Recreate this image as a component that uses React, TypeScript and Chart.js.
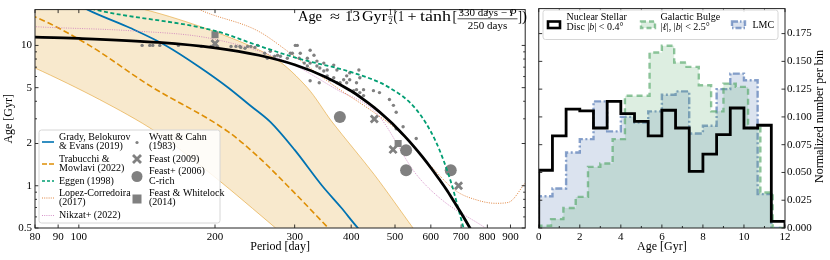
import React, { useEffect, useRef } from "react";
import { Chart, registerables } from "chart.js";

Chart.register(...registerables);

const SERIF = "'Liberation Serif', 'Times New Roman', Times, serif";
Chart.defaults.font.family = SERIF;
Chart.defaults.color = "#000";

// ---------------- Left panel: age vs period ----------------
const periodTicks = [80, 90, 100, 200, 300, 400, 500, 600, 700, 800, 900];
const ageTicks = [0.5, 1, 2, 5, 10];
const ageMinorTicks = [0.6, 0.7, 0.8, 0.9, 3, 4, 6, 7, 8, 9];

// Age ≈ 13 Gyr ½(1 + tanh[(330 − P)/250])
const fitPeriod = [75, 80, 100, 150, 200, 250, 300, 350, 400, 425, 450, 475, 500, 525, 550, 575, 600, 625, 650, 675, 700, 740, 760];
const fitAge = [11.5, 11.45, 11.22, 10.51, 9.61, 8.51, 7.28, 5.98, 4.73, 4.14, 3.6, 3.1, 2.66, 2.257, 1.91, 1.606, 1.344, 1.121, 0.936, 0.772, 0.64, 0.471, 0.403];

const gradyPeriod = [100, 104.5, 130, 155.6, 185, 214, 240, 265, 300, 345, 380, 414, 425];
const gradyAge = [19.5, 18, 13.3, 10, 7.0, 5, 3.7, 2.85, 1.8, 1.0, 0.7, 0.5, 0.46];

const trabPeriod = [75, 80, 105.5, 143, 213.7, 248.6, 296.5, 356, 370];
const trabAge = [17.0, 15.96, 10, 5.2, 2.43, 1.62, 0.923, 0.5, 0.44];

const bandUpperPeriod = [75, 100, 138, 200, 271, 320, 363, 450, 548, 570];
const bandUpperAge = [25, 21.5, 18.2, 12.5, 8.1, 5.0, 2.85, 1.2, 0.5, 0.42];
const bandLowerPeriod = [285, 270.7, 200, 147.8, 111, 80, 75];
const bandLowerAge = [0.44, 0.508, 1.15, 2.43, 4.12, 6.9, 7.3];

const eggenPeriod = [100, 107.1, 200, 248.6, 304, 405, 486, 556.6, 615.6, 663.7, 709, 725];
const eggenAge = [19.5, 18.2, 12.7, 10, 8.11, 6.37, 5.0, 3.51, 2.06, 1.08, 0.5, 0.4];

const lopezPeriod = [175, 183.6, 248.6, 293.6, 366.4, 448, 510.6, 594.3, 680.6, 760, 834, 889, 970, 1000];
const lopezAge = [20, 18.2, 12.7, 8.79, 5.17, 3.35, 2.43, 1.43, 0.923, 0.79, 0.75, 0.76, 1.05, 1.2];

const nikzatPeriod = [75, 80, 131.1, 196.1, 290, 372, 455, 556.6, 637.6, 792, 820];
const nikzatAge = [13.8, 13.6, 12.7, 11.2, 7.6, 4.84, 3.3, 1.21, 0.785, 0.5, 0.46];

const wyattPeriod = [138, 143.5, 145.7, 151, 166, 186.5, 196, 217, 222.5, 228, 236, 245, 257.5, 261, 271, 227, 233, 240, 248.6, 265, 275, 279, 289, 296.5, 301, 307, 315, 320, 324.6, 331, 336, 341, 348, 324.6, 354, 359, 366, 372, 385, 391, 397, 411, 418, 426, 304, 293.5, 308.7, 324.6, 320, 336, 348, 354, 366, 372, 378, 340, 391, 397, 411, 418, 416, 405, 426, 448, 462, 486, 496, 503, 521, 503, 557];
const wyattAge = [10.0, 10.0, 10.0, 10.0, 10.0, 9.84, 9.84, 9.84, 9.84, 9.68, 9.84, 9.68, 8.79, 8.11, 8.38, 9.84, 9.53, 9.84, 10.0, 9.08, 8.51, 8.38, 8.11, 8.79, 10.0, 8.11, 7.48, 7.13, 7.48, 8.51, 7.13, 6.9, 6.58, 5.6, 6.07, 5.69, 5.88, 5.42, 5.69, 5.42, 6.37, 4.84, 4.61, 4.39, 10.0, 8.79, 8.79, 9.23, 8.11, 7.73, 7.48, 6.68, 7.24, 6.68, 5.42, 5.42, 6.07, 5.69, 5.42, 5.88, 6.68, 4.76, 4.84, 4.76, 4.61, 4.12, 3.74, 3.34, 2.63, 2.55, 2.17];

const feast09Period = [200, 450, 495, 691];
const feast09Age = [10.3, 2.99, 1.81, 1.0];
const feast06Period = [377.6, 529, 529, 664];
const feast06Age = [3.09, 1.79, 1.29, 1.29];
const fwPeriod = [200, 508];
const fwAge = [11.9, 2.0];

// ---------------- Right panel: age histograms ----------------
const ageTicksR = [0, 2, 4, 6, 8, 10, 12];
const normTicks = [0, 0.025, 0.05, 0.075, 0.1, 0.125, 0.15, 0.175];
const edges18 = [0, 0.667, 1.333, 2, 2.667, 3.333, 4, 4.667, 5.333, 6, 6.667, 7.333, 8, 8.667, 9.333, 10, 10.667, 11.333, 12];
const edges20 = [0, 0.6, 1.2, 1.8, 2.4, 3, 3.6, 4.2, 4.8, 5.4, 6, 6.6, 7.2, 7.8, 8.4, 9, 9.6, 10.2, 10.8, 11.4, 12];
const nsdValues = [0.052, 0.083, 0.107, 0.1055, 0.09, 0.114, 0.103, 0.096, 0.083, 0.106, 0.09, 0.051, 0.0665, 0.084, 0.108, 0.09, 0.0925, 0.006];
const bulgeValues = [0.002, 0.008, 0.018, 0.028, 0.055, 0.058, 0.08, 0.119, 0.119, 0.158, 0.164, 0.149, 0.145, 0.1285, 0.105, 0.13, 0.127, 0.09, 0.032, 0.0];
const lmcValues = [0.0286, 0.0355, 0.068, 0.08, 0.114, 0.087, 0.1, 0.095, 0.105, 0.12, 0.123, 0.085, 0.092, 0.125, 0.139, 0.133, 0.0305, 0.0];

const BLUE = "#0173b2";
const ORANGE = "#de8f05";
const GREEN = "#029e73";
const LOPEZ = "rgba(213,94,0,0.75)";
const PINK = "rgba(204,120,188,0.8)";
const GRAY = "#808080";

const HGREEN_LINE = "rgba(85,168,104,0.65)";
const HGREEN_FILL = "rgba(85,168,104,0.2)";
const HBLUE_LINE = "rgba(76,114,176,0.65)";
const HBLUE_FILL = "rgba(76,114,176,0.2)";

const zip = (xs: number[], ys: number[]) => xs.map((x, i) => ({ x, y: ys[i] }));
const stepData = (edges: number[], vals: number[]) => {
  const pts = [{ x: edges[0], y: 0 }];
  vals.forEach((v, i) => pts.push({ x: edges[i], y: v }));
  pts.push({ x: edges[edges.length - 1], y: vals[vals.length - 1] });
  pts.push({ x: edges[edges.length - 1], y: 0 });
  return pts;
};

function framePlugin(id: string, xMajor: number[], xMinor: number[], yMajor: number[], yMinor: number[]) {
  return {
    id,
    afterDatasetsDraw(chart: any) {
      const { ctx, chartArea: a } = chart;
      const xs = chart.scales.x;
      const ys = chart.scales.y;
      ctx.save();
      ctx.strokeStyle = "#000";
      ctx.lineWidth = 0.8;
      ctx.beginPath();
      const vt = (vals: number[], len: number) => {
        for (const v of vals) {
          const p = xs.getPixelForValue(v);
          if (p < a.left - 0.5 || p > a.right + 0.5) continue;
          ctx.moveTo(p, a.bottom);
          ctx.lineTo(p, a.bottom - len);
          ctx.moveTo(p, a.top);
          ctx.lineTo(p, a.top + len);
        }
      };
      const ht = (vals: number[], len: number) => {
        for (const v of vals) {
          const p = ys.getPixelForValue(v);
          if (p < a.top - 0.5 || p > a.bottom + 0.5) continue;
          ctx.moveTo(a.left, p);
          ctx.lineTo(a.left + len, p);
          ctx.moveTo(a.right, p);
          ctx.lineTo(a.right - len, p);
        }
      };
      vt(xMajor, 3.5);
      vt(xMinor, 2);
      ht(yMajor, 3.5);
      ht(yMinor, 2);
      ctx.stroke();
      ctx.lineWidth = 1;
      ctx.strokeStyle = "#222";
      ctx.strokeRect(a.left, a.top, a.right - a.left, a.bottom - a.top);
      ctx.restore();
    },
  };
}

function roundRect(ctx: CanvasRenderingContext2D, x: number, y: number, w: number, h: number, r: number) {
  ctx.beginPath();
  ctx.moveTo(x + r, y);
  ctx.lineTo(x + w - r, y);
  ctx.arcTo(x + w, y, x + w, y + r, r);
  ctx.lineTo(x + w, y + h - r);
  ctx.arcTo(x + w, y + h, x + w - r, y + h, r);
  ctx.lineTo(x + r, y + h);
  ctx.arcTo(x, y + h, x, y + h - r, r);
  ctx.lineTo(x, y + r);
  ctx.arcTo(x, y, x + r, y, r);
  ctx.closePath();
}

function drawRich(ctx: CanvasRenderingContext2D, parts: Array<[string, boolean]>, x: number, y: number, size: number) {
  let cx = x;
  for (const [t, it] of parts) {
    ctx.font = `${it ? "italic " : ""}${size}px ${SERIF}`;
    ctx.fillText(t, cx, y);
    cx += ctx.measureText(t).width;
  }
  return cx;
}

// draw text so that it spans [x0, x1] horizontally (gentle horizontal scaling)
function fitText(ctx: CanvasRenderingContext2D, text: string, x0: number, x1: number, y: number, font: string) {
  ctx.save();
  ctx.font = font;
  const w = ctx.measureText(text).width;
  const s = Math.min(1.3, Math.max(0.8, (x1 - x0) / w));
  ctx.translate(x0, y);
  ctx.scale(s, 1);
  ctx.fillText(text, 0, 0);
  ctx.restore();
}

const leftLegendPlugin = {
  id: "leftLegend",
  afterDraw(chart: any) {
    const ctx: CanvasRenderingContext2D = chart.ctx;
    ctx.save();
    roundRect(ctx, 39, 130, 181, 93, 2.5);
    ctx.fillStyle = "rgba(255,255,255,0.85)";
    ctx.fill();
    ctx.strokeStyle = "#d6d6d6";
    ctx.lineWidth = 1;
    ctx.stroke();
    ctx.fillStyle = "#000";
    ctx.textBaseline = "middle";
    ctx.font = `10px ${SERIF}`;
    const rows: Array<{ y: number; color: string; dash: number[]; w: number; text: string[] }> = [
      { y: 142, color: BLUE, dash: [], w: 1.6, text: ["Grady, Belokurov", "& Evans (2019)"] },
      { y: 164, color: ORANGE, dash: [5, 2], w: 1.6, text: ["Trabucchi &", "Mowlavi (2022)"] },
      { y: 181, color: GREEN, dash: [3, 2], w: 1.6, text: ["Eggen (1998)"] },
      { y: 198, color: LOPEZ, dash: [1, 1.2], w: 1, text: ["Lopez-Corredoira", "(2017)"] },
      { y: 215.5, color: PINK, dash: [1, 1.2], w: 1, text: ["Nikzat+ (2022)"] },
    ];
    for (const r of rows) {
      ctx.save();
      ctx.strokeStyle = r.color;
      ctx.lineWidth = r.w;
      ctx.setLineDash(r.dash);
      ctx.beginPath();
      ctx.moveTo(42, r.y);
      ctx.lineTo(54, r.y);
      ctx.stroke();
      ctx.restore();
      if (r.text.length === 1) ctx.fillText(r.text[0], 59, r.y);
      else {
        ctx.fillText(r.text[0], 59, r.y - 4.8);
        ctx.fillText(r.text[1], 59, r.y + 4.8);
      }
    }
    ctx.fillStyle = GRAY;
    ctx.beginPath();
    ctx.arc(137, 142.5, 1.6, 0, Math.PI * 2);
    ctx.fill();
    ctx.strokeStyle = GRAY;
    ctx.lineWidth = 2.8;
    ctx.beginPath();
    ctx.moveTo(133, 155);
    ctx.lineTo(141, 163);
    ctx.moveTo(141, 155);
    ctx.lineTo(133, 163);
    ctx.stroke();
    ctx.beginPath();
    ctx.arc(137, 176.5, 5.5, 0, Math.PI * 2);
    ctx.fill();
    ctx.fillRect(132.5, 194.5, 9, 9);
    ctx.fillStyle = "#000";
    ctx.fillText("Wyatt & Cahn", 149, 137.2);
    ctx.fillText("(1983)", 149, 146.6);
    ctx.fillText("Feast (2009)", 149, 159);
    ctx.fillText("Feast+ (2006)", 149, 171.8);
    ctx.fillText("C-rich", 149, 181.2);
    ctx.fillText("Feast & Whitelock", 149, 193.4);
    ctx.fillText("(2014)", 149, 202.8);
    ctx.restore();
  },
};

const formulaPlugin = {
  id: "formula",
  afterDraw(chart: any) {
    const ctx: CanvasRenderingContext2D = chart.ctx;
    ctx.save();
    ctx.fillStyle = "#000";
    ctx.strokeStyle = "#000";
    ctx.textBaseline = "alphabetic";
    const big = `14px ${SERIF}`;
    const base = 20.5;
    fitText(ctx, "Age", 298, 322, base, big);
    fitText(ctx, "\u2248", 330, 340, base, big);
    fitText(ctx, "13", 345, 360, base, big);
    fitText(ctx, "Gyr", 362, 387, base, big);
    // one half
    ctx.font = `8px ${SERIF}`;
    ctx.textAlign = "center";
    ctx.fillText("1", 390.5, 15);
    ctx.fillText("2", 390.5, 23.5);
    ctx.lineWidth = 0.6;
    ctx.beginPath();
    ctx.moveTo(388, 16.8);
    ctx.lineTo(393, 16.8);
    ctx.stroke();
    ctx.textAlign = "left";
    fitText(ctx, "(", 393.5, 397.5, base, big);
    fitText(ctx, "1", 398, 404, base, big);
    fitText(ctx, "+", 407.5, 416.5, base, big);
    fitText(ctx, "tanh", 420, 451, base, big);
    fitText(ctx, "[", 452.5, 457, base, big);
    // fraction
    const cx = 487.5;
    ctx.font = `11px ${SERIF}`;
    const numA = ctx.measureText("330 days \u2212 ").width;
    ctx.font = `italic 11px ${SERIF}`;
    const numB = ctx.measureText("P").width;
    drawRich(ctx, [["330 days \u2212 ", false], ["P", true]], cx - (numA + numB) / 2, 15.5, 11);
    ctx.font = `11px ${SERIF}`;
    const denW = ctx.measureText("250 days").width;
    ctx.fillText("250 days", cx - denW / 2, 29);
    ctx.lineWidth = 0.7;
    ctx.beginPath();
    ctx.moveTo(457.5, 18.8);
    ctx.lineTo(517.5, 18.8);
    ctx.stroke();
    fitText(ctx, "]", 518, 522, base, big);
    fitText(ctx, ")", 522, 527, base, big);
    ctx.restore();
  },
};

const rightLegendPlugin = {
  id: "rightLegend",
  afterDraw(chart: any) {
    const ctx: CanvasRenderingContext2D = chart.ctx;
    const ox = -533; // right canvas starts at page x = 533
    ctx.save();
    roundRect(ctx, 543 + ox, 10, 235, 29.5, 2.5);
    ctx.fillStyle = "rgba(255,255,255,0.85)";
    ctx.fill();
    ctx.strokeStyle = "#d6d6d6";
    ctx.lineWidth = 1;
    ctx.stroke();
    ctx.fillStyle = "#fff";
    ctx.fillRect(548 + ox, 21.5, 12, 6.5);
    ctx.strokeStyle = "#000";
    ctx.lineWidth = 2.6;
    ctx.strokeRect(548 + ox, 21.5, 12, 6.5);

    ctx.fillStyle = HGREEN_FILL;
    ctx.fillRect(641 + ox, 21.5, 14, 6.5);
    ctx.strokeStyle = HGREEN_LINE;
    ctx.lineWidth = 2.4;
    ctx.setLineDash([5, 3]);
    ctx.strokeRect(641 + ox, 21.5, 14, 6.5);

    ctx.fillStyle = HBLUE_FILL;
    ctx.fillRect(732 + ox, 21.5, 13, 6.5);
    ctx.strokeStyle = HBLUE_LINE;
    ctx.setLineDash([6, 2, 1.5, 2]);
    ctx.strokeRect(732 + ox, 21.5, 13, 6.5);
    ctx.setLineDash([]);

    ctx.fillStyle = "#000";
    ctx.textBaseline = "middle";
    ctx.font = `10px ${SERIF}`;
    ctx.fillText("Nuclear Stellar", 566.5 + ox, 17);
    drawRich(ctx, [["Disc |", false], ["b", true], ["| < 0.4\u00b0", false]], 566.5 + ox, 27.3, 10);
    ctx.font = `10px ${SERIF}`;
    ctx.fillText("Galactic Bulge", 660.5 + ox, 17);
    drawRich(ctx, [["|", false], ["\u2113", true], ["|, |", false], ["b", true], ["| < 2.5\u00b0", false]], 660.5 + ox, 27.3, 10);
    ctx.font = `10px ${SERIF}`;
    ctx.fillText("LMC", 752.5 + ox, 25.5);
    ctx.restore();
  },
};

const rightTitlePlugin = {
  id: "rightTitle",
  afterDraw(chart: any) {
    const ctx: CanvasRenderingContext2D = chart.ctx;
    ctx.save();
    ctx.translate(820 - 533, 116.5);
    ctx.rotate(-Math.PI / 2);
    ctx.fillStyle = "#000";
    ctx.textAlign = "center";
    ctx.textBaseline = "middle";
    ctx.font = `12px ${SERIF}`;
    ctx.fillText("Normalized number per bin", 0, 0);
    ctx.restore();
  },
};

const lineDs = (label: string, xs: number[], ys: number[], color: string, width: number, dash: number[], order: number) => ({
  label,
  data: zip(xs, ys),
  borderColor: color,
  backgroundColor: color,
  borderWidth: width,
  borderDash: dash,
  pointRadius: 0,
  fill: false,
  cubicInterpolationMode: "monotone" as const,
  order,
});

const markerDs = (label: string, xs: number[], ys: number[], style: string, radius: number, order: number, bw = 0) => ({
  label,
  data: zip(xs, ys),
  showLine: false,
  pointStyle: style,
  pointRadius: radius,
  pointBackgroundColor: GRAY,
  pointBorderColor: GRAY,
  pointBorderWidth: bw,
  order,
});

function leftConfig(): any {
  return {
    type: "line",
    data: {
      datasets: [
        {
          label: "band",
          data: [...zip(bandUpperPeriod, bandUpperAge), ...zip(bandLowerPeriod, bandLowerAge)],
          borderColor: "rgba(222,143,5,0.55)",
          borderWidth: 0.9,
          backgroundColor: "rgba(222,143,5,0.2)",
          pointRadius: 0,
          fill: "shape",
          tension: 0.3,
          order: 100,
        },
        lineDs("Trabucchi & Mowlavi (2022)", trabPeriod, trabAge, ORANGE, 1.6, [6, 3], 9),
        lineDs("Grady, Belokurov & Evans (2019)", gradyPeriod, gradyAge, BLUE, 1.8, [], 8),
        lineDs("Nikzat+ (2022)", nikzatPeriod, nikzatAge, PINK, 1, [1, 1.3], 7),
        lineDs("Lopez-Corredoira (2017)", lopezPeriod, lopezAge, LOPEZ, 1, [1, 1.3], 6),
        markerDs("Wyatt & Cahn (1983)", wyattPeriod, wyattAge, "circle", 1.7, 5),
        markerDs("Feast (2009)", feast09Period, feast09Age, "crossRot", 5, 4, 2.8),
        markerDs("Feast+ (2006) C-rich", feast06Period, feast06Age, "circle", 6, 4),
        markerDs("Feast & Whitelock (2014)", fwPeriod, fwAge, "rect", 5, 4),
        lineDs("Eggen (1998)", eggenPeriod, eggenAge, GREEN, 1.8, [4, 2.5], 2),
        lineDs("fit", fitPeriod, fitAge, "#000", 2.8, [], 1),
      ],
    },
    options: {
      animation: false,
      responsive: false,
      maintainAspectRatio: false,
      events: [],
      layout: { padding: { left: 0, right: 3, top: 5, bottom: 0 } },
      plugins: { legend: { display: false }, tooltip: { enabled: false } },
      scales: {
        x: {
          type: "logarithmic",
          min: 80,
          max: 970,
          afterBuildTicks: (s: any) => {
            s.ticks = periodTicks.map((v) => ({ value: v }));
          },
          afterFit: (s: any) => {
            s.height = 32;
          },
          ticks: { autoSkip: false, maxRotation: 0, padding: 3, font: { size: 11 }, color: "#000", callback: (v: any) => String(v) },
          grid: { display: false, drawTicks: false },
          border: { display: false },
          title: { display: true, text: "Period [day]", font: { size: 12 }, color: "#000", padding: { top: 0, bottom: 6 } },
        },
        y: {
          type: "logarithmic",
          min: 0.5,
          max: 18,
          afterBuildTicks: (s: any) => {
            s.ticks = ageTicks.map((v) => ({ value: v }));
          },
          afterFit: (s: any) => {
            s.width = 35;
          },
          ticks: { autoSkip: false, padding: 3, font: { size: 11 }, color: "#000", callback: (v: any) => String(v) },
          grid: { display: false, drawTicks: false },
          border: { display: false },
          title: { display: true, text: "Age [Gyr]", font: { size: 12 }, color: "#000", padding: { top: 2, bottom: 0 } },
        },
      },
    },
    plugins: [framePlugin("frameL", periodTicks, [], ageTicks, ageMinorTicks), formulaPlugin, leftLegendPlugin],
  };
}

const histDs = (label: string, edges: number[], vals: number[], line: string, fill: string | false, width: number, dash: number[], order: number) => ({
  label,
  data: stepData(edges, vals),
  stepped: "before" as const,
  borderColor: line,
  backgroundColor: fill || "transparent",
  borderWidth: width,
  borderDash: dash,
  pointRadius: 0,
  fill: fill ? "origin" : false,
  order,
});

function rightConfig(): any {
  return {
    type: "line",
    data: {
      datasets: [
        histDs("LMC", edges18, lmcValues, HBLUE_LINE, HBLUE_FILL, 2.4, [7, 2.5, 2, 2.5], 3),
        histDs("Galactic Bulge", edges20, bulgeValues, HGREEN_LINE, HGREEN_FILL, 2.4, [6, 4], 2),
        histDs("Nuclear Stellar Disc", edges18, nsdValues, "#000", false, 2.8, [], 1),
      ],
    },
    options: {
      animation: false,
      responsive: false,
      maintainAspectRatio: false,
      events: [],
      layout: { padding: { left: 4, right: 0, top: 5, bottom: 0 } },
      plugins: { legend: { display: false }, tooltip: { enabled: false } },
      scales: {
        x: {
          type: "linear",
          min: 0,
          max: 12,
          afterBuildTicks: (s: any) => {
            s.ticks = ageTicksR.map((v) => ({ value: v }));
          },
          afterFit: (s: any) => {
            s.height = 32;
          },
          ticks: { autoSkip: false, maxRotation: 0, padding: 3, font: { size: 11 }, color: "#000", callback: (v: any) => String(v) },
          grid: { display: false, drawTicks: false },
          border: { display: false },
          title: { display: true, text: "Age [Gyr]", font: { size: 12 }, color: "#000", padding: { top: 0, bottom: 6 } },
        },
        y: {
          type: "linear",
          position: "right",
          min: 0,
          max: 0.1975,
          afterBuildTicks: (s: any) => {
            s.ticks = normTicks.map((v) => ({ value: v }));
          },
          afterFit: (s: any) => {
            s.width = 45;
          },
          ticks: { autoSkip: false, padding: 2, font: { size: 11 }, color: "#000", callback: (v: any) => Number(v).toFixed(3) },
          grid: { display: false, drawTicks: false },
          border: { display: false },
        },
      },
    },
    plugins: [
      framePlugin("frameR", ageTicksR, [1, 3, 5, 7, 9, 11], normTicks, []),
      rightLegendPlugin,
      rightTitlePlugin,
    ],
  };
}

export default function App() {
  const lRef = useRef<HTMLCanvasElement>(null);
  const rRef = useRef<HTMLCanvasElement>(null);
  useEffect(() => {
    const l = new Chart(lRef.current as HTMLCanvasElement, leftConfig());
    const r = new Chart(rRef.current as HTMLCanvasElement, rightConfig());
    return () => {
      l.destroy();
      r.destroy();
    };
  }, []);
  return (
    <div style={{ position: "fixed", left: 0, top: 0, width: 830, height: 260, background: "#fff", overflow: "hidden" }}>
      <canvas ref={lRef} width={533} height={260} style={{ position: "absolute", left: 0, top: 0, width: 533, height: 260 }} />
      <canvas ref={rRef} width={297} height={260} style={{ position: "absolute", left: 533, top: 0, width: 297, height: 260 }} />
    </div>
  );
}
